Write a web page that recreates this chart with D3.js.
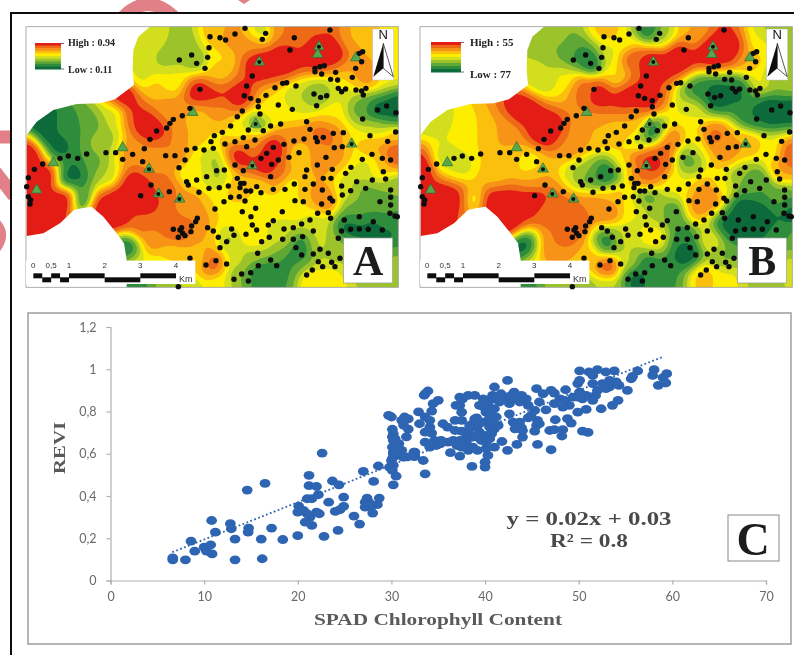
<!DOCTYPE html>
<html>
<head>
<meta charset="utf-8">
<script src="https://cdn.jsdelivr.net/npm/d3@7"></script>
<style>
body { margin: 0; background: #fff; }
svg { display: block; }
</style>
</head>
<body>
<div id="chart-area"></div>
<script>
// scatter values: [SPAD, REVI]
let scatterLow = [[6.65,.107],[6.65,.098],[8,.098],[8.6,.186],[9,.139],[10,.158],[10.25,.139],[10.7,.169],[10.85,.126],[10.8,.284],[11.2,.229],[12.8,.269],[12.9,.245],[13.3,.196],[13.3,.098],[14.75,.248],[14.7,.229],[14.6,.428],[16.1,.196],[16.2,.103],[16.5,.46],[17.2,.248],[18.4,.194],[20,.212],[20.1,.352],[20,.324],[20.6,.332],[21,.316],[20.8,.276],[21.5,.261],[21.3,.3],[22,.324],[22.3,.316],[21,.387],[21.5,.387],[22.2,.406],[21.2,.449],[22,.445],[21.2,.498],[22.6,.603],[22.8,.209],[23.3,.371],[23.7,.471],[24.4,.453],[24,.327],[24.5,.335],[24.9,.351],[24.9,.395],[24.3,.237],[26,.305],[26.6,.267],[27,.517],[28.1,.469],[28.6,.542],[27.2,.371],[27.4,.39],[27.2,.347],[27.8,.347],[28.5,.359],[28.7,.39],[28,.319],[27.6,.37]]
let scatterMid = [[29.7,.782],[30,.774],[30.1,.716],[30.1,.68],[30.4,.671],[30.1,.632],[30.2,.608],[30.8,.648],[30.1,.577],[30.2,.545],[30.1,.521],[30.5,.494],[30.2,.453],[31.1,.758],[31.4,.774],[31.8,.765],[31.3,.735],[31.8,.717],[31.6,.68],[31.1,.616],[31.3,.585],[31.7,.585],[32.5,.608],[32.5,.588],[32.9,.798],[33.5,.877],[33.4,.568],[33.6,.505],[32.4,.608],[32.4,.587],[33.6,.884],[33.9,.897],[33.6,.774],[34.3,.802],[34.45,.837],[35,.853],[34.1,.726],[34.3,.698],[33.6,.655],[34.8,.639],[35.3,.663],[35.5,.742],[36,.726],[36.8,.758],[37.5,.758],[37.3,.868],[38.2,.876],[38.9,.876],[37.3,.829],[37.5,.797],[39.1,.77],[36.8,.71],[37.5,.707],[38.2,.71],[39.1,.726],[39.8,.75],[40.1,.797],[40.3,.837],[41,.916],[40.8,.876],[41.7,.884],[42.4,.947],[42.3,.868],[43.1,.892],[43.9,.876],[44.4,.86],[44.6,.829],[30.2,.695],[30.2,.663],[30.55,.631],[30.9,.592],[30.2,.6],[30,.568],[29.8,.537],[31.3,.584],[34.1,.758],[33,.742],[33.6,.702],[35.2,.647],[36.05,.655],[34.6,.663],[34.1,.631]]
let scatterHigh = [[40.3,.805],[41,.813],[41.2,.774],[40.5,.726],[41,.718],[40.1,.687],[40.5,.671],[39.4,.702],[38.7,.679],[38,.679],[37.3,.663],[37,.639],[37.5,.631],[36.3,.605],[37.3,.589],[38.2,.616],[39.2,.616],[40.1,.624],[41,.631],[41.8,.658],[42.4,.616],[43.4,.644],[44,.679],[44,.71],[43.5,.742],[42.6,.789],[43,.75],[43.2,.718],[44.6,.77],[45.3,.805],[45.6,.644],[45.5,.734],[45.8,.742],[45.3,.707],[47.05,.619],[46.9,.71],[47.4,.714],[48.3,.714],[48.2,.684],[47.5,.761],[48.8,.766],[49.2,.745],[50.4,.707],[51,.701],[46.5,.808],[45.5,.908],[46.2,.884],[47.05,.9],[47.4,.887],[45.8,.845],[47.4,.837],[48.6,.903],[48.5,.853],[49.4,.868],[49.9,.932],[50.1,.892],[50.4,.86],[49,.829],[49.9,.797],[50.8,.81],[51.5,.853],[52,.9],[52.4,.813],[52.9,.908],[53.6,.829],[54.2,.853],[55.2,.9],[50.1,.992],[51.1,.987],[52,.998],[52.9,.987],[53.8,.992],[51.5,.932],[54,.94],[54.3,.924],[53.3,.916],[55.75,.966],[56.3,.992],[55.6,.955],[58.05,.998],[57.9,.971],[59,.96],[59.4,.979],[58.5,.924],[59.3,.935],[38.9,.765],[40.3,.757],[40.8,.742],[39.8,.663],[40.1,.655],[38.7,.631],[40.3,.592],[40,.56],[40,.537],[38.6,.54],[41,.86],[41.9,.868],[42.8,.876],[43.3,.86],[40.3,.853],[40.5,.781],[39.9,.821],[35.5,.655],[36.9,.829],[37.6,.86],[39.4,.829],[39.8,.86],[41.55,.845],[42.6,.837],[43.7,.845],[40.8,.758],[39.4,.742],[38.7,.742],[38.35,.734],[36.6,.663],[37.65,.655],[37.1,.647],[38,.655],[39.2,.679],[39.6,.663],[40.7,.695],[41.4,.734],[43.7,.75],[43.9,.723],[44.9,.781],[45.6,.758],[48.3,.821],[48,.86],[49.9,.868],[50.8,.876],[51.8,.876],[52.55,.932],[53.3,.947],[51.5,.971],[50.1,.947]]
let trendX = [6.6, 58.95]
let trendY = [.134, 1.058]
let revi_ticks = [0, .2, .4, .6, .8, 1, 1.2]
let spad_ticks = [0, 10, 20, 30, 40, 50, 60, 70]

// sampling points on the map grid (1 unit = 1/3 px), shared by panels A and B
let samplePoints = [[735,85],[990,90],[797,100],[705,102],[630,110],[660,113],[677,120],[787,118],[883,113],[627,143],[870,150],[575,165],[623,172],[538,180],[590,190],[615,205],[1088,155],[1078,160],[1085,185],[1067,205],[1057,232],[945,205],[960,200],[973,197],[965,222],[945,215],[1007,217],[992,238],[1013,240],[1015,265],[1025,275],[1037,267],[1068,270],[1085,273],[1098,265],[1090,285],[757,228],[740,258],[733,287],[752,295],[775,302],[798,286],[825,263],[848,250],[860,248],[888,258],[942,282],[962,292],[980,287],[950,317],[877,328],[835,315],[775,320],[780,342],[727,333],[712,350],[692,378],[600,268],[570,325],[547,347],[520,358],[510,370],[500,384],[470,393],[450,418],[433,446],[398,463],[368,478],[347,458],[318,458],[260,462],[233,475],[205,468],[180,475],[128,492],[103,508],[85,533],[80,560],[85,590],[92,600],[90,612],[1088,357],[1133,330],[1160,318],[1188,338],[1187,396],[1110,407],[1163,424],[920,365],[930,388],[842,372],[812,378],[790,392],[745,390],[730,413],[765,420],[740,440],[705,425],[675,432],[643,407],[667,397],[633,425],[612,450],[585,445],[640,445],[560,450],[555,480],[525,467],[497,467],[428,485],[453,555],[422,587],[508,575],[537,503],[560,545],[565,555],[590,540],[620,530],[650,512],[673,510],[597,577],[627,565],[658,563],[685,558],[705,495],[730,512],[712,535],[722,550],[732,550],[720,563],[718,590],[738,573],[752,573],[770,560],[783,578],[672,605],[692,592],[645,627],[735,603],[820,568],[855,568],[883,552],[915,568],[940,552],[967,570],[920,510],[915,530],[952,495],[978,472],[997,508],[993,535],[970,535],[1000,400],[1030,398],[1003,443],[1027,440],[970,412],[947,413],[952,425],[912,417],[882,423],[852,433],[820,442],[800,460],[783,475],[815,493],[835,480],[867,472],[897,458],[812,530],[885,602],[910,605],[965,612],[990,595],[998,603],[1027,585],[1037,520],[1053,502],[1087,478],[1116,463],[1147,475],[1172,480],[1150,515],[1117,540],[1157,537],[1070,545],[1052,572],[1097,565],[1025,558],[1172,570],[1172,592],[1140,605],[1172,615],[1170,640],[1185,648],[1192,650],[1120,665],[1078,650],[1033,660],[1052,688],[1078,687],[1025,693],[1147,690],[1105,688],[1015,715],[992,655],[985,638],[953,640],[930,660],[905,672],[880,683],[852,687],[820,662],[805,675],[770,690],[757,675],[753,650],[727,635],[767,625],[847,635],[592,655],[587,665],[575,678],[573,695],[545,683],[520,688],[540,690],[548,700],[535,712],[555,707],[623,683],[640,693],[655,712],[695,687],[702,706],[680,725],[738,703],[660,743],[785,725],[808,712],[848,718],[880,718],[940,693],[908,710],[888,743],[905,765],[960,748],[940,762],[985,760],[955,785],[1020,775],[968,800],[995,787],[1005,800],[937,810],[920,825],[773,760],[775,797],[812,780],[830,797],[680,792],[648,782],[618,795],[570,775],[725,822],[752,818],[702,838],[745,843],[535,860],[447,508],[475,582],[538,597],[757,497],[778,186],[957,140],[767,372],[1055,432]]
let plainStations = [[578,337],[368,443],[160,488],[110,570],[1068,173],[953,163]]
let dotStations = [[447,507],[476,582],[539,597],[757,497],[778,186],[957,140],[767,372],[1055,432]]

// values of the surface at read-off locations, 0 = lowest class, 1 = highest
let fieldA = [[100,600,1],[150,620,1],[90,480,1],[100,445,1],[150,530,1],[190,600,1],[120,370,0],[130,420,.03],[170,440,.05],[195,530,.05],[230,520,.05],[250,600,.15],[210,380,.15],[270,370,.25],[275,500,.25],[320,420,.37],[320,530,.42],[340,340,.45],[370,290,1],[450,380,1],[410,340,.9],[400,450,.7],[350,600,1],[430,600,1],[350,650,1],[400,560,1],[300,620,1],[460,480,.7],[520,470,.75],
[530,140,.34],[500,170,.35],[590,180,.33],[560,120,.36],[470,120,.45],[430,160,.45],[430,230,.45],[520,240,.5],[640,100,.62],[700,120,.7],[660,170,.55],[650,220,.6],[600,275,.98],[640,285,.9],[720,290,.95],[780,185,1],[850,170,1],[950,150,1],[1000,150,1],[960,90,.85],[900,110,.8],[850,100,.75],[780,100,.42],[760,130,.7],[1050,120,.65],[1100,90,.6],[1150,90,.55],[1060,220,.65],[1100,230,.7],[1170,240,.5],
[1190,300,.05],[1130,335,.02],[1090,320,.25],[1190,350,.05],[1120,380,.42],[1190,400,.6],[960,290,.32],[900,300,.4],[1030,270,.47],[800,320,.55],[870,340,.5],[990,340,.55],[770,370,.3],[720,390,.5],[650,340,.7],[600,350,.6],[640,400,.55],[500,330,.7],[460,270,.6],[580,380,.65],
[815,450,1],[720,470,.95],[800,500,1],[830,520,.8],[760,430,.7],[900,470,.55],[880,400,.7],[970,400,.8],[1000,440,.75],[950,470,.7],[1060,430,.55],[1120,440,.65],[1190,465,.9],[1150,500,.6],[1100,500,.45],[640,490,.37],[660,530,.38],[600,500,.5],[560,520,.5],[700,550,.6],[780,560,.55],[870,560,.5],[930,570,.65],[980,600,.75],[1040,580,.42],
[1100,590,.25],[1160,600,.28],[1060,640,.22],[1150,660,.18],[1050,680,.05],[1130,690,.03],[1190,680,.1],[1190,560,.32],[500,560,.8],[480,640,.85],[530,690,.85],[590,650,.75],[560,620,.7],[650,620,.55],[720,650,.55],[800,640,.5],[880,640,.5],[950,670,.45],[620,720,.65],[680,720,.38],[760,720,.55],[850,710,.42],[900,740,.12],[880,770,.18],[960,730,.42],[1010,750,.35],[990,830,.5],[1100,800,.32],[1190,800,.32],
[640,790,.85],[600,780,.6],[520,760,.6],[450,720,.7],[420,680,.8],[385,740,.1],[420,800,.5],[480,830,.32],[560,860,.4],[720,830,.3],[780,820,.08],[850,830,.18],[800,860,.15],[660,850,.5],[930,850,.55],[1000,860,.5],[700,780,.45],[760,770,.35],[410,855,.1]]
let fieldB = [[590,185,.05],[550,170,.18],[500,150,.28],[480,120,.33],[440,180,.4],[440,240,.42],[520,240,.5],[640,95,.6],[765,90,.08],[700,130,.5],[800,110,.38],[900,100,.65],[640,160,.45],[660,230,.55],[780,185,1],[850,170,1],[950,150,1],[1010,150,1],[720,170,.85],[620,275,.95],[700,290,.95],[750,300,.95],[560,260,.8],
[110,360,.43],[140,480,.43],[200,500,.45],[220,400,.5],[280,400,.62],[300,520,.6],[340,400,.68],[390,330,1],[450,390,1],[350,480,.62],[400,490,.5],[420,540,.65],[90,500,1],[100,600,1],[150,600,1],[190,600,.95],[235,600,.5],[350,620,1],[420,600,1],[340,670,1],[300,610,1],[460,630,.8],
[540,450,.72],[600,400,.65],[680,400,.62],[730,370,.65],[770,395,.08],[720,440,.42],[635,525,.07],[600,530,.22],[560,500,.38],[700,480,.5],[770,490,.98],[720,470,.9],[800,470,.85],[830,430,.78],[760,540,.78],[880,470,.22],[900,440,.48],[960,410,.78],[1000,460,.7],[1060,430,.65],[1130,460,.5],[1190,470,.85],[1150,510,.65],
[1190,320,.02],[1130,330,0],[1080,350,.1],[960,290,.02],[1030,270,.08],[920,280,.15],[900,330,.48],[1100,240,.5],[1150,240,.32],[1190,260,.35],[1060,180,.65],[1100,130,.5],[1130,90,.38],[1190,100,.32],[1040,530,.32],[1100,540,.18],[1050,620,.02],[1100,650,0],[1050,680,0],[1150,600,.22],[1190,650,.05],[1150,690,.12],[1000,680,.05],[1060,560,.25],[990,560,.5],[950,590,.75],[910,620,.7],[840,560,.5],
[760,590,.22],[835,640,.18],[790,640,.38],[720,620,.5],[660,590,.6],[640,630,.75],[540,650,.85],[530,700,.8],[480,740,.75],[470,780,.7],[600,610,.7],[640,730,.12],[690,720,.42],[780,710,.55],[880,760,.02],[870,720,.12],[950,720,.5],[1000,770,.28],[1000,830,.5],[930,830,.6],[645,800,.85],[590,770,.6],[720,830,.05],[760,800,.12],[820,830,.18],[700,790,.42],[640,860,.4],[385,740,.05],[420,800,.5],[450,840,.32],[410,855,.1],[560,860,.32],[1190,800,.42],[1190,700,.22],[1100,800,.32]]
let mapBoundary = [[450,80],[415,110],[400,150],[398,210],[402,255],[345,298],[300,310],[230,312],[160,330],[110,365],[80,405],[80,708],[130,700],[180,670],[222,630],[245,625],[275,620],[310,650],[350,700],[372,730],[380,780],[380,862],[1195,862],[1195,80]]

let bandThresholds = [.1, .2, .3, .4, .48, .56, .65, .75, .87]
let bandColors = ["#0a6a3a", "#2f8c3c", "#5fa835", "#9cc42a", "#d3df1c", "#fdee06", "#fbbf0a", "#f79313", "#ee6a14", "#e41e18"]
let km_ticks = [0, .5, 1, 2, 3, 4]
let km_labels = ["0", "0,5", "1", "2", "3", "4"]
let barTop = [[0,.25],[.5,.75],[1,2],[3,4]]
let barBottom = [[.25,.5],[.75,1],[2,3]]

let svg = d3.select("#chart-area").append("svg")
  .attr("width", 794)
  .attr("height", 655)

let defs = svg.append("defs")
defs.append("filter").attr("id", "soft")
  .append("feGaussianBlur").attr("stdDeviation", 0.5)
defs.append("filter").attr("id", "softAll")
  .attr("filterUnits", "userSpaceOnUse")
  .attr("x", 0).attr("y", 0)
  .attr("width", 794).attr("height", 655)
  .append("feGaussianBlur").attr("stdDeviation", 0.35)
defs.append("clipPath").attr("id", "outsideFrame")
  .append("path").attr("d", "M0,0 H794 V13 H11 V655 H0 Z")

let page = svg.append("g").attr("filter", "url(#softAll)")
page.append("rect").attr("width", 794).attr("height", 655).attr("fill", "#fff")

// pink watermark strokes, only visible outside the frame
let stamp = page.append("g")
  .attr("clip-path", "url(#outsideFrame)")
  .attr("fill", "none").attr("stroke", "#e28088").attr("stroke-width", 13)
stamp.append("path").attr("d", "M123,17 Q148,-8 174,17")
stamp.append("path").attr("d", "M-6,137 L12,137")
stamp.append("path").attr("d", "M-6,170 L14,196")
stamp.append("path").attr("d", "M-4,222 Q8,234 -4,250").attr("stroke-width", 8)
page.append("path").attr("d", "M238,0 L250,0 L244,4 Z").attr("fill", "#e28088")

// outer frame
page.append("path")
  .attr("d", "M11,655 V13 H794")
  .attr("fill", "none")
  .attr("stroke", "#111")
  .attr("stroke-width", 2)

drawMap(0, fieldA, "High : 0.94", "Low : 0.11", "A")
drawMap(394, fieldB, "High : 55", "Low : 77", "B")

function drawMap(shift, field, highLabel, lowLabel, letter) {
  let gridX = d3.scaleLinear().domain([78, 1195]).range([26 + shift, 398.3 + shift])
  let gridY = d3.scaleLinear().domain([80, 862]).range([26.7, 287.3])
  let group = page.append("g")
  let clipId = "clip" + letter

  defs.append("clipPath").attr("id", clipId)
    .append("path")
    .attr("d", d3.line().x(p => gridX(p[0])).y(p => gridY(p[1])).curve(d3.curveLinearClosed)(mapBoundary))

  // softened inverse distance surface from the read-off locations
  let cols = 188, rows = 132
  let values = new Float64Array(cols * rows)
  for (let j = 0; j < rows; j++) {
    for (let i = 0; i < cols; i++) {
      let x = 78 + i * 1117 / (cols - 1)
      let y = 80 + j * 782 / (rows - 1)
      let sum = 0, weights = 0
      field.forEach(f => {
        let d2 = (x - f[0]) * (x - f[0]) + (y - f[1]) * (y - f[1]) + 500
        let w = 1 / (d2 * d2 * Math.sqrt(d2))
        sum += w * f[2]
        weights += w
      })
      values[j * cols + i] = sum / weights
    }
  }
  d3.blur2({data: values, width: cols, height: rows}, 1.6)
  let contours = d3.contours().size([cols, rows]).thresholds(bandThresholds)(values)
  let cellPath = d3.geoPath(d3.geoTransform({
    point: function (x, y) {
      this.stream.point(gridX(78 + (x - .5) * 1117 / (cols - 1)), gridY(80 + (y - .5) * 782 / (rows - 1)))
    }
  }))

  let surface = group.append("g").attr("clip-path", "url(#" + clipId + ")").append("g").attr("filter", "url(#soft)")
  surface.append("rect")
    .attr("x", gridX(78)).attr("y", gridY(80))
    .attr("width", gridX(1195) - gridX(78)).attr("height", gridY(862) - gridY(80))
    .attr("fill", bandColors[0])
  surface.selectAll("path.band").data(contours).enter().append("path")
    .attr("class", "band")
    .attr("d", cellPath)
    .attr("fill", (d, i) => bandColors[i + 1])

  // thin gray neat line
  group.append("rect")
    .attr("x", gridX(78)).attr("y", gridY(80))
    .attr("width", gridX(1195) - gridX(78)).attr("height", gridY(862) - gridY(80))
    .attr("fill", "none").attr("stroke", "#9a9a9a").attr("stroke-width", 0.8)

  // stations under the dots
  let triangle = d3.symbol().type(d3.symbolTriangle).size(50)
  group.selectAll("path.plain").data(plainStations.concat(dotStations)).enter().append("path")
    .attr("d", triangle)
    .attr("transform", d => "translate(" + gridX(d[0]) + "," + gridY(d[1]) + ")")
    .attr("fill", "#54a84c")
    .attr("stroke", "#2c6b36")
    .attr("stroke-width", 0.7)

  group.selectAll("circle").data(samplePoints).enter().append("circle")
    .attr("cx", d => gridX(d[0]))
    .attr("cy", d => gridY(d[1]))
    .attr("r", d => dotStations.some(s => Math.abs(s[0] - d[0]) < 3 && Math.abs(s[1] - d[1]) < 3) ? 2 : 2.7)
    .attr("fill", "#0b0b0b")

  // legend
  let legendTop = shift ? 42 : 43
  let legendH = shift ? 30 : 26
  let legendW = shift ? 30 : 26
  let legendX = shift ? 431 : 35
  let legendY = d3.scaleLinear().domain([0, bandColors.length]).range([legendTop, legendTop + legendH])
  bandColors.slice().reverse().forEach((c, i) => {
    group.append("rect")
      .attr("x", legendX).attr("y", legendY(i))
      .attr("width", legendW).attr("height", legendY(1) - legendY(0) + .5)
      .attr("fill", c)
  })
  group.append("path")
    .attr("d", "M" + (legendX + legendW) + "," + (legendTop + .5) + "h3 M" + (legendX + legendW) + "," + (legendTop + legendH) + "h3")
    .attr("stroke", "#333").attr("stroke-width", 0.7)
  group.append("text").text(highLabel)
    .attr("x", shift ? 470 : 68).attr("y", shift ? 46 : 46)
    .attr("font-family", "Liberation Serif").attr("font-weight", "bold")
    .attr("font-size", shift ? 11 : 10).attr("fill", "#222")
  group.append("text").text(lowLabel)
    .attr("x", shift ? 470 : 68).attr("y", shift ? 78 : 73)
    .attr("font-family", "Liberation Serif").attr("font-weight", "bold")
    .attr("font-size", shift ? 11 : 10).attr("fill", "#222")

  // north arrow
  group.append("rect")
    .attr("x", gridX(1118)).attr("y", gridY(87))
    .attr("width", 21).attr("height", 51)
    .attr("fill", "#fff").attr("stroke", "#bbb").attr("stroke-width", 0.5)
  group.append("text").text("N")
    .attr("x", gridX(1150)).attr("y", gridY(118))
    .attr("text-anchor", "middle")
    .attr("font-family", "Liberation Sans").attr("font-size", 13).attr("fill", "#111")
  let north = gridX(1150)
  group.append("path")
    .attr("d", "M" + north + "," + gridY(130) + " L" + (north - 10) + "," + gridY(230) + " L" + north + "," + gridY(205) + " Z")
    .attr("fill", "#111")
  group.append("path")
    .attr("d", "M" + north + "," + gridY(130) + " L" + (north + 10) + "," + gridY(230) + " L" + north + "," + gridY(205) + " Z")
    .attr("fill", "#fff").attr("stroke", "#111").attr("stroke-width", 0.7)

  // scale bar
  let km = d3.scaleLinear().domain([0, 4]).range([gridX(100), gridX(528)])
  group.append("rect")
    .attr("x", gridX(78)).attr("y", gridY(782))
    .attr("width", gridX(586) - gridX(78)).attr("height", gridY(852) - gridY(782))
    .attr("fill", "#fff")
  group.selectAll("rect.top").data(barTop).enter().append("rect")
    .attr("x", d => km(d[0])).attr("y", gridY(820))
    .attr("width", d => km(d[1]) - km(d[0])).attr("height", 5)
    .attr("fill", "#0d0d0d")
  group.selectAll("rect.bottom").data(barBottom).enter().append("rect")
    .attr("x", d => km(d[0])).attr("y", gridY(832))
    .attr("width", d => km(d[1]) - km(d[0])).attr("height", 5)
    .attr("fill", "#0d0d0d")
  group.selectAll("text.km").data(km_ticks).enter().append("text")
    .text((d, i) => km_labels[i])
    .attr("x", d => km(d)).attr("y", gridY(805))
    .attr("text-anchor", "middle")
    .attr("font-family", "Liberation Sans").attr("font-size", 8).attr("fill", "#333")
  group.append("text").text("Km")
    .attr("x", km(4) + 3).attr("y", gridY(846))
    .attr("font-family", "Liberation Sans").attr("font-size", 9).attr("fill", "#333")

  // panel letter
  group.append("rect")
    .attr("x", gridX(1031)).attr("y", gridY(714))
    .attr("width", 49).attr("height", 45)
    .attr("fill", "#fff").attr("stroke", "#999").attr("stroke-width", 0.7)
  group.append("text").text(letter)
    .attr("x", gridX(1031) + 24.5).attr("y", gridY(714) + 37)
    .attr("text-anchor", "middle")
    .attr("font-family", "Liberation Serif").attr("font-weight", "bold")
    .attr("font-size", 42).attr("fill", "#1d1d1d")
}

// panel C frame
page.append("rect")
  .attr("x", 28).attr("y", 313)
  .attr("width", 763).attr("height", 331)
  .attr("fill", "#fff")
  .attr("stroke", "#a4a4a4")
  .attr("stroke-width", 1.6)

let x = d3.scaleLinear().domain([0, 70]).range([110.5, 766])
let y = d3.scaleLinear().domain([0, 1.2]).range([580.5, 327])
let commaFormat = d => String(d).replace(".", ",")

let yAxisCall = d3.axisLeft(y).tickValues(revi_ticks).tickFormat(commaFormat).tickSizeOuter(0).tickSize(4).tickPadding(10)
let xAxisCall = d3.axisBottom(x).tickValues(spad_ticks).tickSizeOuter(0).tickSize(4).tickPadding(8)

let plot = page.append("g")
plot.append("g").attr("transform", "translate(" + x(0) + ",0)").call(yAxisCall)
plot.append("g").attr("transform", "translate(0," + y(0) + ")").call(xAxisCall)
plot.selectAll(".domain, .tick line").attr("stroke", "#b0b0b0").attr("stroke-width", 1.2)
plot.selectAll(".tick text")
  .attr("font-family", "Lato")
  .attr("font-size", 12.5)
  .attr("fill", "#6a6a6a")

plot.selectAll("ellipse").data(scatterLow.concat(scatterMid, scatterHigh)).enter().append("ellipse")
  .attr("cx", d => x(d[0]))
  .attr("cy", d => y(d[1]))
  .attr("rx", 5.4)
  .attr("ry", 4.4)
  .attr("fill", "#2f65b3")

plot.append("path")
  .attr("d", d3.line().x((d, i) => x(trendX[i])).y((d, i) => y(trendY[i]))(trendX))
  .attr("fill", "none")
  .attr("stroke", "#2f65b3")
  .attr("stroke-width", 1.8)
  .attr("stroke-dasharray", "1.8 2.4")

// X label
page.append("text").text("SPAD Chlorophyll Content")
  .attr("x", 438).attr("y", 625)
  .attr("text-anchor", "middle")
  .attr("textLength", 248).attr("lengthAdjust", "spacingAndGlyphs")
  .attr("font-family", "Liberation Serif").attr("font-weight", "bold")
  .attr("font-size", 17).attr("fill", "#5a5a5a")

// Y label
page.append("text").text("REVI")
  .attr("transform", "translate(65,448) rotate(-90)")
  .attr("text-anchor", "middle")
  .attr("textLength", 52).attr("lengthAdjust", "spacingAndGlyphs")
  .attr("font-family", "Liberation Serif").attr("font-weight", "bold")
  .attr("font-size", 17).attr("fill", "#5a5a5a")

page.append("text").text("y = 0.02x + 0.03")
  .attr("x", 589).attr("y", 525)
  .attr("text-anchor", "middle")
  .attr("textLength", 165).attr("lengthAdjust", "spacingAndGlyphs")
  .attr("font-family", "Liberation Serif").attr("font-weight", "bold")
  .attr("font-size", 19).attr("fill", "#4a4a4a")
page.append("text").text("R² = 0.8")
  .attr("x", 589).attr("y", 547)
  .attr("text-anchor", "middle")
  .attr("textLength", 78).attr("lengthAdjust", "spacingAndGlyphs")
  .attr("font-family", "Liberation Serif").attr("font-weight", "bold")
  .attr("font-size", 19).attr("fill", "#4a4a4a")

page.append("rect")
  .attr("x", 728).attr("y", 515)
  .attr("width", 51).attr("height", 46)
  .attr("fill", "#fff").attr("stroke", "#888").attr("stroke-width", 1)
page.append("text").text("C")
  .attr("x", 753).attr("y", 555)
  .attr("text-anchor", "middle")
  .attr("font-family", "Liberation Serif").attr("font-weight", "bold")
  .attr("font-size", 46).attr("fill", "#1d1d1d")
</script>
</body>
</html>
